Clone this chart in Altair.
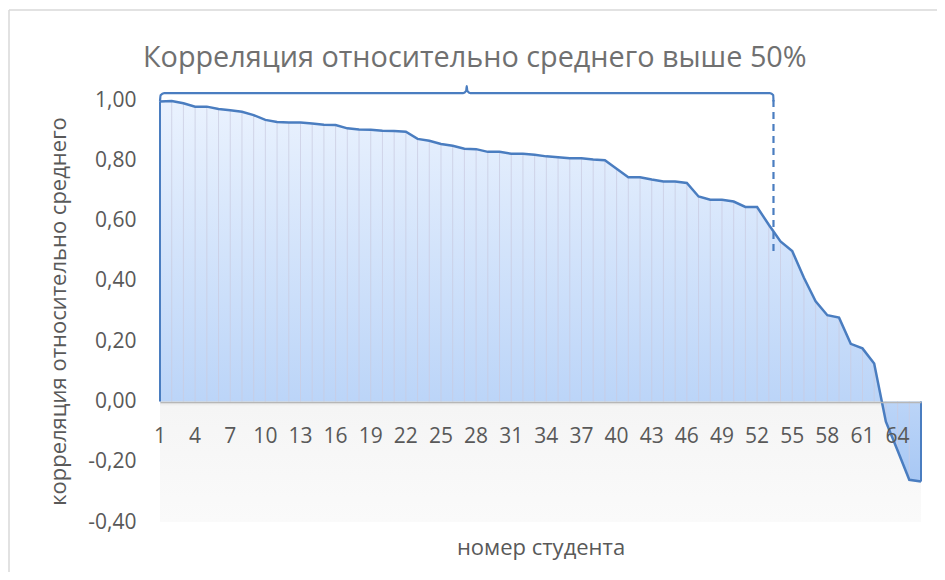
import altair as alt
import pandas as pd

students = list(range(1, 67))
corr = [0.995, 0.997, 0.989, 0.978, 0.978, 0.970, 0.966, 0.961, 0.950, 0.934,
        0.927, 0.925, 0.925, 0.922, 0.918, 0.917, 0.906, 0.902, 0.901, 0.898,
        0.897, 0.895, 0.871, 0.865, 0.854, 0.848, 0.838, 0.837, 0.828, 0.828,
        0.822, 0.822, 0.818, 0.813, 0.810, 0.807, 0.807, 0.803, 0.800, 0.772,
        0.744, 0.744, 0.736, 0.730, 0.730, 0.725, 0.680, 0.669, 0.669, 0.663,
        0.645, 0.645, 0.586, 0.531, 0.499, 0.410, 0.332, 0.286, 0.278, 0.191,
        0.176, 0.126, -0.067, -0.163, -0.260, -0.266]
x_ticks = list(range(1, 65, 3))
y_ticks = [-0.4, -0.2, 0.0, 0.2, 0.4, 0.6, 0.8, 1.0]

title_text = "Корреляция относительно среднего выше 50%"
y_title = "корреляция относительно среднего"
x_title = "номер студента"

# bracket annotation (data coordinates)
br_x = [1, 1.05, 1.35, 26.9, 27.15, 27.2, 27.25, 27.5, 53.1, 53.38, 53.4]
br_y = [0.995, 1.016, 1.023, 1.023, 1.030, 1.046, 1.030, 1.023, 1.023, 1.016, 0.995]
dash_x = 53.4
dash_y = [1.0, 0.487]

df = pd.DataFrame({"student": students, "corr": corr})
br = pd.DataFrame({"student": br_x, "corr": br_y, "o": list(range(len(br_x)))})
ticks_df = pd.DataFrame({"student": x_ticks})
one = pd.DataFrame({"a": [0]})

FONT = "Open Sans"
W, H = 761, 422

xs = alt.Scale(domain=[1, 66], nice=False, zero=False)
ys = alt.Scale(domain=[-0.4, 1.0], nice=False)

x_axis = alt.Axis(values=x_ticks, title=x_title, ticks=False, grid=False,
                  labels=False,
                  domain=True, domainColor="#b7b7b7", domainWidth=1.5,
                  offset=-120, titleFont=FONT, titleFontSize=22,
                  titleFontWeight="normal", titleColor="#595959",
                  titleY=152, titleBaseline="alphabetic", zindex=1)
y_axis = alt.Axis(values=y_ticks, title=y_title, ticks=False, grid=False,
                  domain=False, labelPadding=24, labelFontSize=21,
                  labelColor="#595959", labelFont=FONT, labelOverlap=False,
                  labelExpr="replace(replace(format(datum.value, '.2f'), '.', ','), '\u2212', '-')",
                  titleFont=FONT, titleFontSize=22, titleFontWeight="normal",
                  titleColor="#595959", titleX=-90, titleY=H / 2 + 0,
                  titleBaseline="bottom", zindex=1)

base = alt.Chart(df)
X = alt.X("student:Q", scale=xs, axis=x_axis)
Y = alt.Y("corr:Q", scale=ys, axis=y_axis)

band = alt.Chart(one).mark_rect(
    color=alt.Gradient(gradient="linear",
                       stops=[alt.GradientStop(color="#e2e2e2", offset=0),
                              alt.GradientStop(color="#f5f5f5", offset=0.04),
                              alt.GradientStop(color="#fafafa", offset=1)],
                       x1=0, x2=0, y1=0, y2=1)
).encode(x=alt.datum(1, scale=xs), x2=alt.datum(66),
         y=alt.datum(0, scale=ys), y2=alt.datum(-0.4))

area = base.mark_area(
    color=alt.Gradient(gradient="linear",
                       stops=[alt.GradientStop(color="#eaf2fe", offset=0),
                              alt.GradientStop(color="#bcd5f8", offset=0.78),
                              alt.GradientStop(color="#a8c8f4", offset=1)],
                       x1=0, x2=0, y1=0, y2=1)
).encode(x=X, y=Y, y2=alt.datum(0))

drops = base.mark_rule(color="#c9cbe0", strokeWidth=1, opacity=0.75).encode(
    x=X, y=Y, y2=alt.datum(0))

line = base.mark_line(color="#4a7dc0", strokeWidth=2.5).encode(x=X, y=Y)

edges = base.transform_filter("datum.student == 1 || datum.student == 66").mark_rule(
    color="#4a7dc0", strokeWidth=2).encode(x=X, y=Y, y2=alt.datum(0))

bracket = alt.Chart(br).mark_line(color="#4a7dc0", strokeWidth=2.2, clip=False,
                                  interpolate="monotone").encode(
    x=X, y=Y, order="o:Q")

dashed = alt.Chart(one).mark_rule(color="#4a7dc0", strokeWidth=2.2,
                                  strokeDash=[7, 5]).encode(
    x=alt.datum(dash_x), y=alt.datum(dash_y[0]), y2=alt.datum(dash_y[1]))

xlabels = alt.Chart(ticks_df).mark_text(font=FONT, fontSize=21, color="#595959",
                                        baseline="top", dy=25).encode(
    x=X, y=alt.datum(0), text=alt.Text("student:Q"))

title = alt.Chart(one).mark_text(text=title_text, font=FONT, fontSize=28.8,
                                 color="#707070", align="left",
                                 baseline="alphabetic").encode(
    x=alt.value(-17), y=alt.value(-33))

border_l = alt.Chart(one).mark_rule(color="#d9d9d9", strokeWidth=1.5).encode(
    x=alt.value(-151), y=alt.value(-90), y2=alt.value(480))
border_t = alt.Chart(one).mark_rule(color="#d9d9d9", strokeWidth=1.5).encode(
    x=alt.value(-151), x2=alt.value(790), y=alt.value(-90))

chart = alt.layer(band, area, drops, line, edges, bracket, dashed, xlabels, title,
                  border_l, border_t).properties(
    width=W, height=H, autosize="none",
    padding={"left": 152, "top": 92, "right": 16, "bottom": 50},
    background="white"
).configure(font=FONT).configure_view(strokeWidth=0)

chart.save("out.html", embed_options={"renderer": "svg", "actions": False})
